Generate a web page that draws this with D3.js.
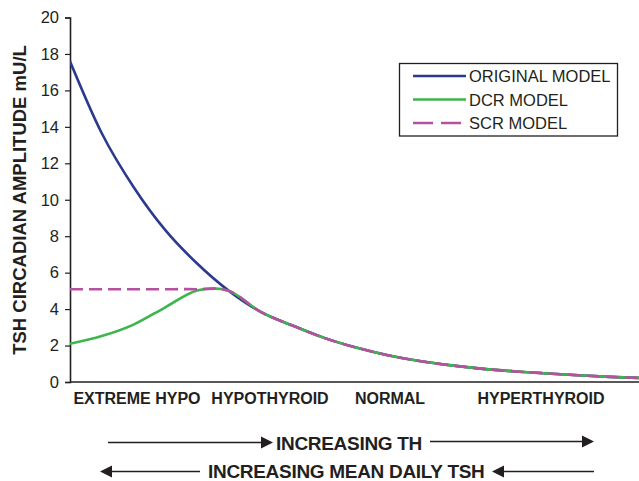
<!DOCTYPE html>
<html>
<head>
<meta charset="utf-8">
<script src="https://cdn.jsdelivr.net/npm/d3@7"></script>
<style>
  html, body { margin: 0; padding: 0; background: #fff; }
  svg { display: block; font-family: "Liberation Sans", Arial, sans-serif; }
</style>
</head>
<body>
<svg id="chart" width="639" height="481"></svg>
<script>
// Steps along the thyroid-hormone continuum (index positions on the x axis)
const steps = d3.range(19);

// TSH circadian amplitude (mU/L) for each model
const originalModel = [17.6, 13.65, 10.7, 8.33, 6.5, 5.0, 3.85, 3.1, 2.42, 1.89, 1.47, 1.15, 0.91, 0.72, 0.58, 0.47, 0.37, 0.28, 0.22];
const dcrModel      = [2.1, 2.52, 3.15, 4.1, 5.02, 5.0, 3.85, 3.1, 2.42, 1.89, 1.47, 1.15, 0.91, 0.72, 0.58, 0.47, 0.37, 0.28, 0.22];
const scrModel      = [5.09, 5.09, 5.09, 5.09, 5.09, 5.0, 3.85, 3.1, 2.42, 1.89, 1.47, 1.15, 0.91, 0.72, 0.58, 0.47, 0.37, 0.28, 0.22];

const yTicks = [0, 2, 4, 6, 8, 10, 12, 14, 16, 18, 20];
const stateLabels = ["EXTREME HYPO", "HYPOTHYROID", "NORMAL", "HYPERTHYROID"];
const stateCenters = [137, 270, 390, 541];
const seriesNames = ["ORIGINAL MODEL", "DCR MODEL", "SCR MODEL"];
const seriesColors = ["#2b3990", "#3cb54a", "#b5519f"];

const svg = d3.select("#chart");
const ink = "#231f20";

const x = d3.scaleLinear().domain([0, 18]).range([70, 642]);
const y = d3.scaleLinear().domain([0, 20]).range([382, 17.5]);

// Y axis
const yAxis = svg.append("g")
  .attr("transform", "translate(70,0)")
  .call(d3.axisLeft(y).tickValues(yTicks).tickSize(5).tickPadding(6).tickFormat(d3.format("d")));
yAxis.select(".domain").attr("stroke", ink).attr("stroke-width", 1.6);
yAxis.selectAll(".tick line").attr("stroke", ink).attr("stroke-width", 1.2);
yAxis.selectAll(".tick text")
  .attr("fill", ink)
  .style("font-size", "16.5px")
  .style("font-family", "'Liberation Sans', Arial, sans-serif");

// X axis baseline
svg.append("line")
  .attr("x1", 70).attr("x2", 639)
  .attr("y1", y(0)).attr("y2", y(0))
  .attr("stroke", ink).attr("stroke-width", 1.6);

// Y axis title
svg.append("text")
  .attr("transform", "translate(26,200) rotate(-90)")
  .attr("text-anchor", "middle")
  .attr("fill", ink)
  .style("font-size", "18.5px")
  .style("font-weight", "bold")
  .text("TSH CIRCADIAN AMPLITUDE mU/L");

// Series lines
const line = d3.line()
  .x((d, i) => x(steps[i]))
  .y(d => y(d))
  .curve(d3.curveCardinal.tension(0));

svg.append("clipPath").attr("id", "plotClip")
  .append("rect").attr("x", 70).attr("y", 0).attr("width", 569).attr("height", 383);

const plot = svg.append("g").attr("clip-path", "url(#plotClip)");

plot.append("path").datum(originalModel)
  .attr("d", line).attr("fill", "none")
  .attr("stroke", seriesColors[0]).attr("stroke-width", 2.6);

plot.append("path").datum(dcrModel)
  .attr("d", line).attr("fill", "none")
  .attr("stroke", seriesColors[1]).attr("stroke-width", 2.6);

plot.append("path").datum(scrModel)
  .attr("d", line).attr("fill", "none")
  .attr("stroke", seriesColors[2]).attr("stroke-width", 2.6)
  .attr("stroke-dasharray", "13,6");

// Legend
const legend = svg.append("g");
legend.append("rect")
  .attr("x", 399.5).attr("y", 63.5).attr("width", 218).attr("height", 72.5)
  .attr("fill", "#fff").attr("stroke", ink).attr("stroke-width", 1.3);
seriesNames.forEach((name, i) => {
  const ly = 76 + i * 23.5;
  legend.append("line")
    .attr("x1", 413).attr("x2", 466).attr("y1", ly).attr("y2", ly)
    .attr("stroke", seriesColors[i]).attr("stroke-width", 2.6)
    .attr("stroke-dasharray", i === 2 ? "20,8" : null);
  legend.append("text")
    .attr("x", 469).attr("y", ly + 6)
    .attr("fill", ink)
    .style("font-size", "16.5px")
    .text(name);
});

// Thyroid state labels under the axis
svg.selectAll(".state").data(stateLabels).enter().append("text")
  .attr("class", "state")
  .attr("x", (d, i) => stateCenters[i])
  .attr("y", 404)
  .attr("text-anchor", "middle")
  .attr("fill", ink)
  .style("font-size", "16px")
  .style("font-weight", "bold")
  .text(d => d);

// Direction arrows
function arrow(x1, x2, yy) {
  const dir = Math.sign(x2 - x1);
  const headLen = 12, headHalf = 6;
  svg.append("line")
    .attr("x1", x1).attr("x2", x2 - dir * headLen)
    .attr("y1", yy).attr("y2", yy)
    .attr("stroke", ink).attr("stroke-width", 1.3);
  svg.append("path")
    .attr("d", `M${x2},${yy} L${x2 - dir * headLen},${yy - headHalf} L${x2 - dir * headLen},${yy + headHalf} Z`)
    .attr("fill", ink);
}

arrow(108, 273, 442.5);
arrow(430, 594, 441.5);
svg.append("text")
  .attr("x", 276).attr("y", 449.5)
  .attr("fill", ink)
  .style("font-size", "19px")
  .style("font-weight", "bold")
  .style("letter-spacing", "-0.3px")
  .text("INCREASING TH");

arrow(200, 100, 471.5);
arrow(594, 492, 471.5);
svg.append("text")
  .attr("x", 208).attr("y", 478)
  .attr("fill", ink)
  .style("font-size", "19px")
  .style("font-weight", "bold")
  .style("letter-spacing", "-0.3px")
  .text("INCREASING MEAN DAILY TSH");
</script>
</body>
</html>
